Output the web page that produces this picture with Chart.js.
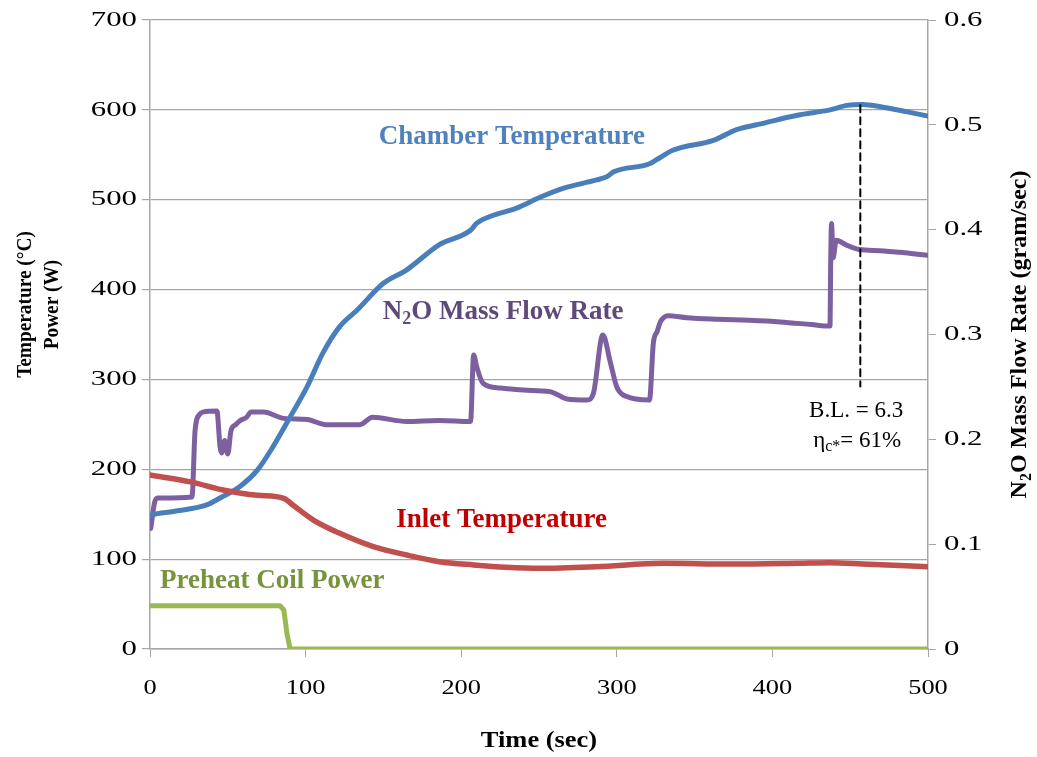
<!DOCTYPE html>
<html>
<head>
<meta charset="utf-8">
<script src="https://cdn.jsdelivr.net/npm/chart.js@4.4.1/dist/chart.umd.min.js"></script>
<style>
html,body{margin:0;padding:0;background:#fff;}
#wrap{width:1037px;height:757px;position:relative;}
</style>
</head>
<body>
<div id="wrap"><canvas id="c"></canvas></div>
<script>
// ---- data ----
const chamberTime = [0,1,15,36,45,58,69,79,90,101,111,122,133,150,165,186,206,210,218,236,251,266,287,294,298,321,326,336,362,377,394,416,437,448,458,471,486,500];
const chamberTemp = [148,149,153,160,168,181,199,225,258,292,329,359,377,407,422,450,466,474,481,491,503,513,522,526,531,540,545,555,566,578,585,594,600,605,606,603,598,593];

const flowTime = [0.5,3,5,27,29,32,34,43,45,46,48,50,52,55,58,62,65,73,86,101,113,135,143,165,186,206,208,210,214,225,240,257,260,268,281,285,291,296,300,306,321,323.5,326,328,333,345,365,385,405,425,437,437.5,438,439,441,448,456,469,485,500];
const flowRate = [0.115,0.14,0.144,0.145,0.209,0.224,0.226,0.227,0.193,0.187,0.199,0.186,0.208,0.214,0.218,0.221,0.226,0.226,0.220,0.219,0.214,0.214,0.221,0.217,0.218,0.217,0.2805,0.269,0.2535,0.249,0.247,0.2455,0.244,0.2385,0.2375,0.244,0.2995,0.2725,0.250,0.241,0.2375,0.292,0.303,0.312,0.318,0.316,0.3145,0.3135,0.312,0.3095,0.308,0.374,0.406,0.373,0.390,0.385,0.381,0.380,0.378,0.3755];

const inletTime = [0,26,47,69,86,92,105,122,143.5,165,186,208,229,251,287,330,373,416,437,458,500];
const inletTemp = [193.6,186,177,171,167.7,160,143.5,128.7,113.9,104.6,97.2,93.5,90.9,89.8,91.6,95.4,94.6,95.4,96,94.6,91.6];

const coilTime = [0,83.5,86,88,90,500];
const coilPower = [48.2,48.2,43.4,17.5,0,0];

const markerTime = [456.5,456.5];
const markerTemp = [605,292];

const xTickValues = [0,100,200,300,400,500];
const xTickLabels = ['0','100','200','300','400','500'];
const yLeftTickValues = [0,100,200,300,400,500,600,700];
const yLeftTickLabels = ['0','100','200','300','400','500','600','700'];
const yRightTickValues = [0,0.1,0.2,0.3,0.4,0.5,0.6];
const yRightTickLabels = ['0','0.1','0.2','0.3','0.4','0.5','0.6'];

// in-plot labels: [time, left-axis value]
const seriesLabels = [
  {segs:[{t:'Chamber Temperature'}], x:232.6, y:570, color:'#4f81bd'},
  {segs:[{t:'N'},{t:'2',sub:true},{t:'O Mass Flow Rate'}], x:227, y:375, color:'#5f497a'},
  {segs:[{t:'Inlet Temperature'}], x:226, y:143.5, color:'#c00000'},
  {segs:[{t:'Preheat Coil Power'}], x:78.6, y:76, color:'#77933c'}
];
const noteLabels = [
  {segs:[{t:'B.L. = 6.3'}], x:453.8, y:265},
  {segs:[{t:'\u03b7'},{t:'c*',sub:true},{t:'= 61%'}], x:454.5, y:232}
];

const pts = (xs, ys) => xs.map((x,i)=>({x:x, y:ys[i]}));
const SERIF = '"Liberation Serif","Times New Roman",serif';

// draws text made of segments (with optional subscripts); align: 'center' | 'left' | 'right'
function drawRich(ctx, segs, ax, ay, size, bold, sx, align){
  sx = sx || 1; align = align || 'center';
  const w0 = bold ? 'bold ' : '';
  let total = 0;
  const widths = segs.map(s=>{
    ctx.font = w0 + (s.sub ? Math.round(size*0.68) : size) + 'px ' + SERIF;
    const w = ctx.measureText(s.t).width; total += w; return w;
  });
  ctx.save();
  ctx.translate(ax, ay);
  ctx.scale(sx, 1);
  let x = align === 'center' ? -total/2 : (align === 'right' ? -total : 0);
  ctx.textAlign = 'left';
  ctx.textBaseline = 'middle';
  segs.forEach((s,i)=>{
    ctx.font = w0 + (s.sub ? Math.round(size*0.68) : size) + 'px ' + SERIF;
    ctx.fillText(s.t, x, (s.sub ? size*0.28 : 0));
    x += widths[i];
  });
  ctx.restore();
}

const textPlugin = {
  id:'texts',
  afterDraw(chart){
    const ctx = chart.ctx, xs = chart.scales.x, ys = chart.scales.y, yr = chart.scales.y1, ca = chart.chartArea;
    ctx.save();
    // tick labels
    ctx.fillStyle = '#000';
    yLeftTickValues.forEach((v,i)=>drawRich(ctx, [{t:yLeftTickLabels[i]}], ca.left - 13, ys.getPixelForValue(v), 22, false, 1.4, 'right'));
    yRightTickValues.forEach((v,i)=>drawRich(ctx, [{t:yRightTickLabels[i]}], ca.right + 16, yr.getPixelForValue(v), 22, false, 1.4, 'left'));
    xTickValues.forEach((v,i)=>drawRich(ctx, [{t:xTickLabels[i]}], xs.getPixelForValue(v), ca.bottom + 39, 22, false, 1.2, 'center'));
    // in-plot labels
    seriesLabels.forEach(l=>{
      ctx.fillStyle = l.color;
      drawRich(ctx, l.segs, xs.getPixelForValue(l.x), ys.getPixelForValue(l.y), 27, true, 1, 'center');
    });
    ctx.fillStyle = '#000';
    noteLabels.forEach(l=>{
      drawRich(ctx, l.segs, xs.getPixelForValue(l.x), ys.getPixelForValue(l.y), 23, false, 1, 'center');
    });
    // axis titles
    const midY = (ca.top + ca.bottom)/2;
    ctx.save();
    ctx.translate(26, midY - 30);
    ctx.rotate(-Math.PI/2);
    drawRich(ctx, [{t:'Temperature (\u00b0C)'}], 0, 0, 21, true, 0.92);
    ctx.restore();
    ctx.save();
    ctx.translate(53, midY - 30);
    ctx.rotate(-Math.PI/2);
    drawRich(ctx, [{t:'Power (W)'}], 0, 0, 21, true, 0.92);
    ctx.restore();
    ctx.save();
    ctx.translate(1020, midY);
    ctx.rotate(-Math.PI/2);
    drawRich(ctx, [{t:'N'},{t:'2',sub:true},{t:'O Mass Flow Rate (gram/sec)'}], 0, 0, 24, true);
    ctx.restore();
    drawRich(ctx, [{t:'Time (sec)'}], (ca.left+ca.right)/2, 741, 23, true, 1.15, 'center');
    ctx.restore();
  }
};

const gridGray = '#a6a6a6';

new Chart(document.getElementById('c'), {
  type:'line',
  data:{
    datasets:[
      {label:'Dashed', data:pts(markerTime, markerTemp), yAxisID:'y', borderColor:'#000', borderWidth:2, borderDash:[7,5], pointRadius:0, order:0},
      {label:'Preheat Coil Power', data:pts(coilTime, coilPower), yAxisID:'y', borderColor:'#98b954', borderWidth:5, pointRadius:0, tension:0, order:1},
      {label:'Inlet Temperature', data:pts(inletTime, inletTemp), yAxisID:'y', borderColor:'#c0504d', borderWidth:5.5, pointRadius:0, cubicInterpolationMode:'monotone', order:2},
      {label:'Chamber Temperature', data:pts(chamberTime, chamberTemp), yAxisID:'y', borderColor:'#4a7ebb', borderWidth:5, pointRadius:0, cubicInterpolationMode:'monotone', order:3},
      {label:'N2O Mass Flow Rate', data:pts(flowTime, flowRate), yAxisID:'y1', borderColor:'#7d60a0', borderWidth:5, pointRadius:0, cubicInterpolationMode:'monotone', order:4}
    ]
  },
  options:{
    responsive:true, maintainAspectRatio:false, animation:false,
    layout:{padding:{top:20, left:0, right:0, bottom:0}},
    plugins:{legend:{display:false}, tooltip:{enabled:false}},
    elements:{line:{borderCapStyle:'round', borderJoinStyle:'round'}},
    scales:{
      x:{type:'linear', position:'bottom', min:0, max:500,
        ticks:{stepSize:100, display:false},
        grid:{drawOnChartArea:false, drawTicks:true, tickLength:8, color:gridGray},
        border:{color:gridGray, width:1.5},
        afterFit:(s)=>{s.height = 108;}
      },
      y:{type:'linear', position:'left', min:0, max:700,
        ticks:{stepSize:100, display:false},
        grid:{color:gridGray, tickLength:8, lineWidth:1.2},
        border:{color:gridGray, width:1.5},
        afterFit:(s)=>{s.width = 150;}
      },
      y1:{type:'linear', position:'right', min:0, max:0.6,
        ticks:{stepSize:0.1, display:false},
        grid:{drawOnChartArea:false, tickLength:8, color:gridGray},
        border:{color:gridGray, width:1.5},
        afterFit:(s)=>{s.width = 109;}
      }
    }
  },
  plugins:[textPlugin]
});
</script>
</body>
</html>
